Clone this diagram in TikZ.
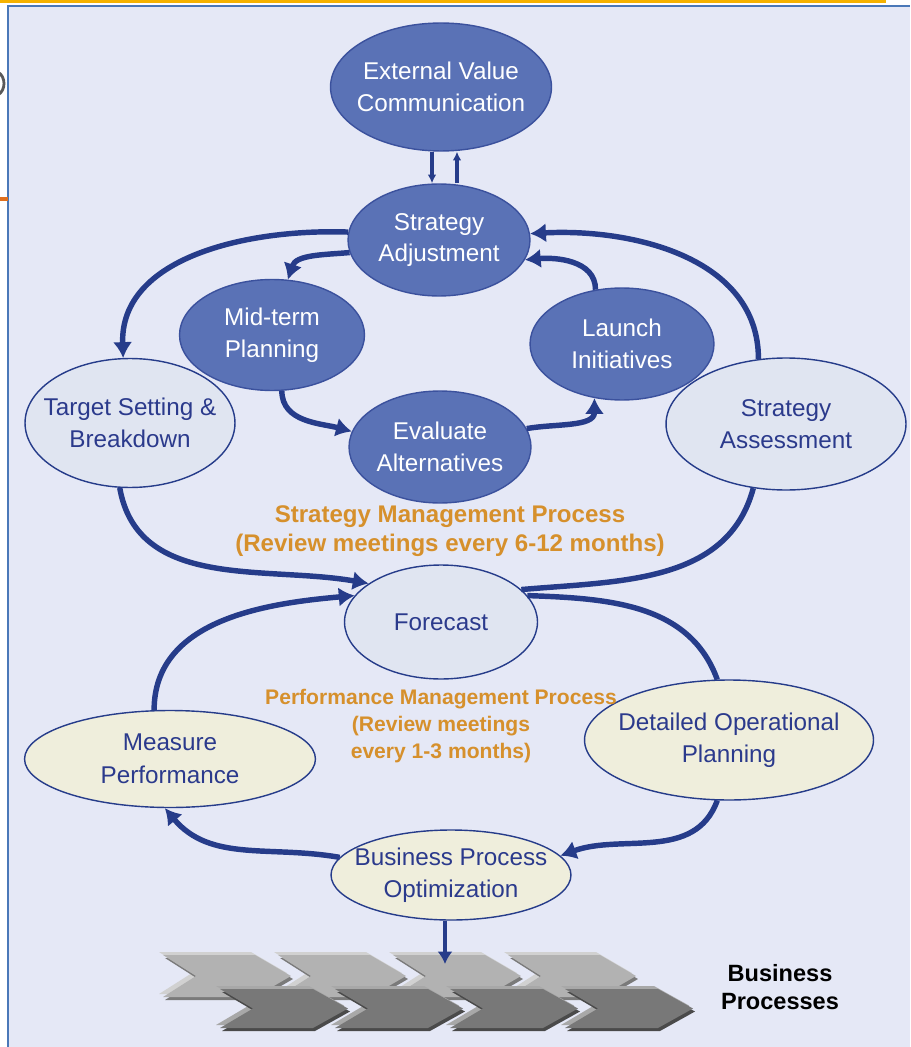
\documentclass[tikz,border=0pt]{standalone}
\usepackage{fontspec}
\setmainfont{Liberation Sans}
\usepackage{tikz}
\usetikzlibrary{shapes,arrows,arrows.meta}

\definecolor{bgblue}{HTML}{E5E8F6}
\definecolor{frameblue}{HTML}{4A78B8}
\definecolor{topgold}{HTML}{F5B200}
\definecolor{tickorange}{HTML}{E0701E}
\definecolor{darkfill}{HTML}{5A72B6}
\definecolor{darkedge}{HTML}{3B519D}
\definecolor{lightfill}{HTML}{E0E5F1}
\definecolor{creamfill}{HTML}{EFEEDC}
\definecolor{arrowblue}{HTML}{263C8A}
\definecolor{textblue}{HTML}{2B3A8C}
\definecolor{noteorange}{HTML}{D6902C}

\tikzstyle{darknode} = [ellipse, draw=darkedge, line width=0.8pt, fill=darkfill, text=white, inner sep=-40pt, align=center, font=\fontsize{13.8}{18}\selectfont]
\tikzstyle{lightnode} = [ellipse, draw=arrowblue, line width=0.8pt, fill=lightfill, text=textblue, inner sep=-40pt, align=center, font=\fontsize{13.8}{18.5}\selectfont]
\tikzstyle{creamnode} = [lightnode, fill=creamfill]
\tikzstyle{note} = [text=noteorange, align=center, font=\bfseries\fontsize{13.7}{16.4}\selectfont]
\tikzstyle{line} = [draw=arrowblue, -{Latex[length=9pt,width=11pt]}, line width=3.1pt]
\tikzstyle{thinline} = [draw=arrowblue, -{Latex[length=5pt,width=5pt]}, line width=2.4pt]

\begin{document}
\begin{tikzpicture}[x=0.02cm, y=-0.02cm]
    \useasboundingbox (0,0) rectangle (910,1047);
    % frame
    \fill[bgblue] (8,6) rectangle (910,1047);
    \draw[frameblue, line width=1.3pt] (8,1047) -- (8,6) -- (910,6);
    \draw[topgold, line width=1.8pt] (0,1.5) -- (886,1.5);
    \draw[tickorange, line width=1.8pt] (0,199) -- (8,199);
    \draw[gray!70!black, line width=1.6pt] (-2,72) .. controls (6,77) and (6,90) .. (-2,95);

    % strategy management process
    \node [darknode, minimum width=4.42cm, minimum height=2.56cm] (evc) at (441,87) {External Value\\Communication};
    \node [darknode, minimum width=3.64cm, minimum height=2.24cm] (adjust) at (439,240) {Strategy\\Adjustment};
    \node [darknode, minimum width=3.70cm, minimum height=2.22cm] (midterm) at (272,335) {Mid-term\\Planning};
    \node [darknode, minimum width=3.68cm, minimum height=2.24cm] (launch) at (622,344) {Launch\\Initiatives};
    \node [darknode, minimum width=3.64cm, minimum height=2.24cm] (evaluate) at (440,447) {Evaluate\\Alternatives};
    \node [lightnode, minimum width=4.20cm, minimum height=2.58cm] (target) at (130,423) {Target Setting \&\\Breakdown};
    \node [lightnode, minimum width=4.80cm, minimum height=2.64cm] (assess) at (786,424) {Strategy\\Assessment};
    \node [lightnode, minimum width=3.86cm, minimum height=2.28cm] (forecast) at (441,622) {Forecast};
    \node [note] (smp) at (450,531) {Strategy Management Process\\(Review meetings every 6-12 months)};

    % performance management process
    \node [creamnode, minimum width=5.82cm, minimum height=1.94cm] (measure) at (170,759) {Measure\\Performance};
    \node [creamnode, minimum width=5.78cm, minimum height=2.40cm] (detailed) at (729,740) {Detailed Operational\\Planning};
    \node [creamnode, minimum width=4.80cm, minimum height=1.80cm] (bpo) at (451,875) {Business Process\\Optimization};
    \node [note, font=\bfseries\fontsize{12}{15.5}\selectfont] (pmp) at (441,726) {Performance Management Process\\(Review meetings\\every 1-3 months)};

    \path [line] (adjust.188) to[out=185, in=72] (midterm.74);
    \path [line] (adjust.175) to[out=178, in=92] (target.96);
    \path [line] (midterm.-80) to[out=-90, in=165] (evaluate.170);
    \path [line] (evaluate.12) to[out=10, in=-90] (launch.243);
    \path [line] (launch.116) to[out=90, in=5] (adjust.-13);
    \path [line] (assess.113) to[out=90, in=3] (adjust.4);
    \path [line] (target.-99) to[out=-80, in=170] (forecast.152);
    \path [line, -] (forecast.22) to[out=5, in=-105] (assess.-117);
    \path [line] (measure.108) to[out=90, in=185] (forecast.163);
    \path [line, -] (forecast.17) to[out=-2, in=110] (detailed.101);
    \path [line] (detailed.-101) to[out=-110, in=20] (bpo.10);
    \path [line] (bpo.171) to[out=170, in=-50] (measure.-96);
    \path [thinline] ([xshift=-0.18cm]evc.south) -- ([xshift=-0.18cm]evc.south |- adjust.north);
    \path [thinline] ([xshift=0.32cm]evc.south |- adjust.north) -- ([xshift=0.32cm]evc.south);

    % business processes
    \foreach \x in {163,278,393,508} {
        \fill[black!18] (\x-4,952) -- ++(92,0) -- ++(36,21) -- ++(-36,21) -- ++(-92,0) -- ++(33,-21) -- cycle;
        \fill[black!52] (\x+2,958) -- ++(92,0) -- ++(36,21) -- ++(-36,21) -- ++(-92,0) -- ++(33,-21) -- cycle;
        \fill[black!30] (\x,955) -- ++(92,0) -- ++(36,21) -- ++(-36,21) -- ++(-92,0) -- ++(33,-21) -- cycle;
    }
    \foreach \x in {220,335,450,565} {
        \fill[black!34] (\x-4,986) -- ++(93,0) -- ++(35,19.5) -- ++(-35,19.5) -- ++(-93,0) -- ++(33,-19.5) -- cycle;
        \fill[black!71] (\x+2,992) -- ++(93,0) -- ++(35,19.5) -- ++(-35,19.5) -- ++(-93,0) -- ++(33,-19.5) -- cycle;
        \fill[black!53] (\x,989) -- ++(93,0) -- ++(35,19.5) -- ++(-35,19.5) -- ++(-93,0) -- ++(33,-19.5) -- cycle;
    }
    \coordinate (chev) at (445,964);
    \path [draw=arrowblue, -{Latex[length=7pt,width=8.5pt]}, line width=1.8pt] (bpo.south -| chev) -- (chev);
    \node [align=center, font=\bfseries\fontsize{13.4}{16}\selectfont] (bp) at (780,987) {Business\\Processes};
\end{tikzpicture}
\end{document}
